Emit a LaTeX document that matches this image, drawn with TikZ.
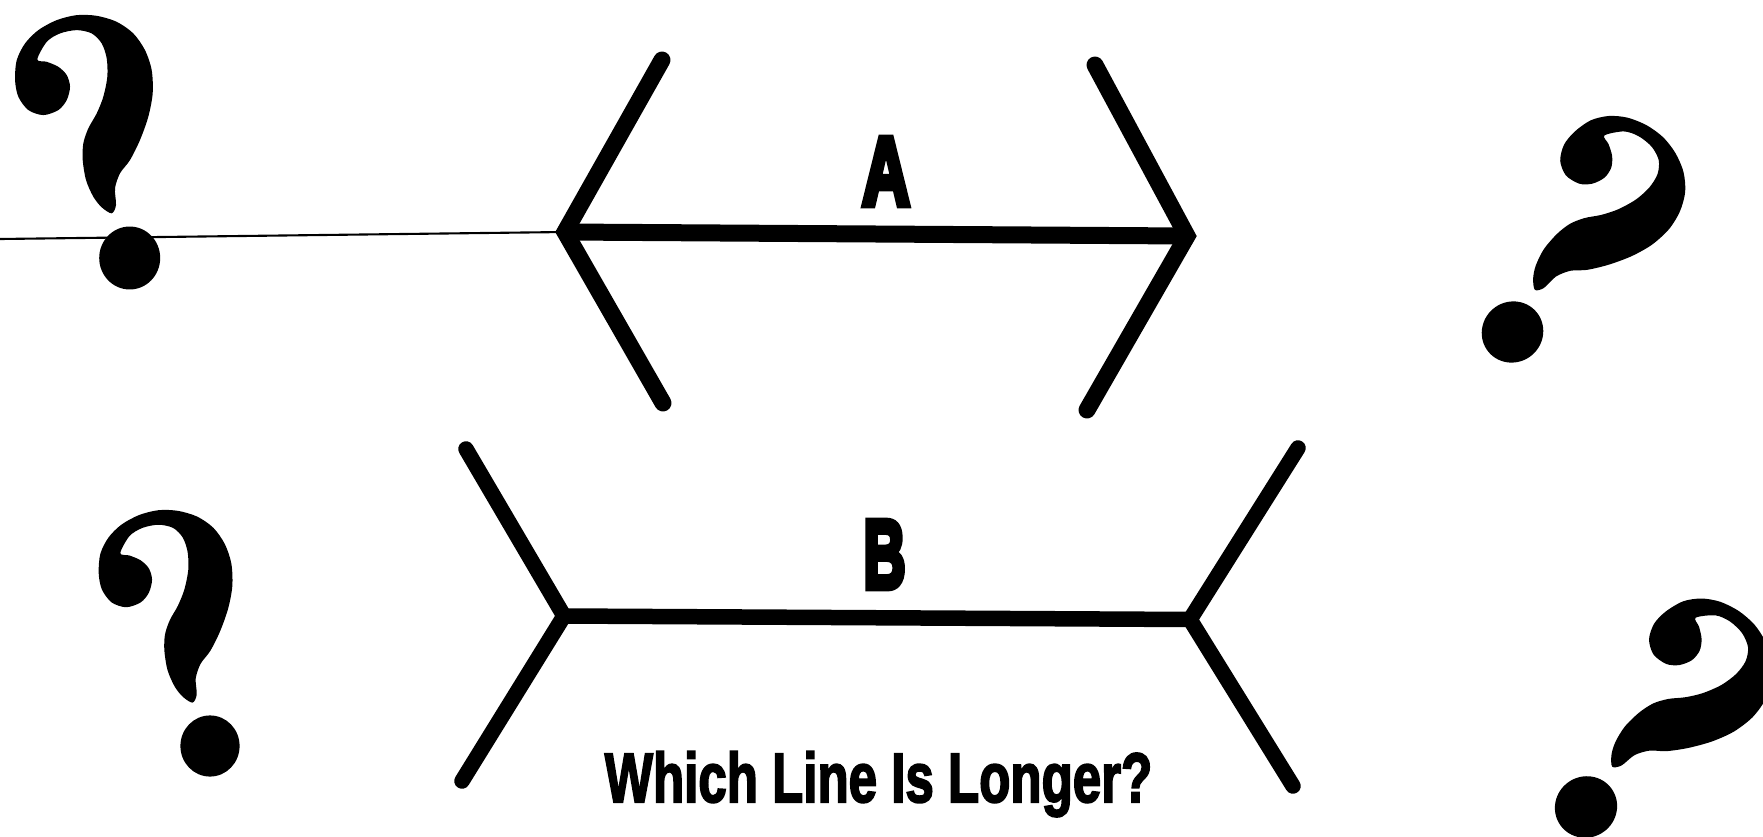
\documentclass[tikz,border=0pt]{standalone}
\usepackage{fontspec}
\newfontfamily\heavyfont{Liberation Sans}[BoldFeatures={FakeBold=3}]
\newfontfamily\letterfont{Liberation Sans}[BoldFeatures={FakeBold=7}]

\begin{document}
\begin{tikzpicture}[
  arm/.style={line width=1.7mm, line cap=round, line join=miter},
  shaft/.style={line width=1.7mm},
  letter/.style={font=\letterfont\bfseries\fontsize{27.7pt}{30pt}\selectfont, inner sep=0pt, anchor=base},
  title/.style={font=\heavyfont\bfseries\fontsize{19.9pt}{22pt}\selectfont, inner sep=0pt, anchor=base}]
% page: 1763 x 837 px, 1 px = 0.01 cm
\fill[white] (0,0) rectangle (17.63,-8.37);
\useasboundingbox (0,0) rectangle (17.63,-8.37);
% question mark, local px units, origin = centre of the dot
\def\qmark{
  \fill plot[smooth cycle, tension=0.5] coordinates {
    (-18,44.7) (-13.7,53) (-14.7,69.7) (-9.7,84.7) (0.3,98) (10.3,118)
    (18.6,141.3) (23,164.7) (22,188) (15.3,208) (3.6,224.7) (-13,236.3)
    (-33,242.3) (-53,243) (-73,238) (-91.4,228) (-104.7,214.7) (-113,198)
    (-114.7,178) (-111.4,161.3) (-101.4,148) (-86.4,143) (-71.4,148)
    (-63,158) (-59.7,171.3) (-63,183) (-71.4,191.3) (-83,196.3) (-92.4,198.7)
    (-83,216.3) (-69.7,224.7) (-53,228) (-38,224.7) (-28,214.7) (-23,199.7)
    (-22.4,181.3) (-26.4,161.3) (-33,144.7) (-41.4,129.7) (-46.4,114.7)
    (-47,98) (-43.7,78) (-36.4,61.3) (-28,50.7)};
  \fill (0,0) ellipse [x radius=30.5, y radius=31.5];
}
\foreach \px/\py/\r/\s in {1.297/-2.58/0/0.01, 2.10/-7.46/0/0.0097,
                           15.125/-3.32/-50/0.0099, 15.86/-8.07/-55/0.01}{
  \begin{scope}[shift={(\px,\py)}, rotate=\r, scale=\s]
    \qmark
  \end{scope}
}
% figure A
\coordinate (edge) at (0,-2.39);
\coordinate (aL)  at (5.65,-2.32);
\coordinate (aLu) at (6.62,-0.60);
\coordinate (aLd) at (6.63,-4.03);
\coordinate (aR)  at (11.87,-2.36);
\coordinate (aRu) at (10.95,-0.65);
\coordinate (aRd) at (10.87,-4.10);
\draw[line width=0.6pt] (edge) -- (aL);
\draw[shaft] (aL) -- (aR);
\draw[arm] (aLu) -- (aL) -- (aLd);
\draw[arm] (aRu) -- (aR) -- (aRd);
\node[letter] (lblA) at (8.86,-2.05) {\scalebox{0.68}[1]{A}};
% figure B
\coordinate (bL)  at (5.64,-6.16);
\coordinate (bLu) at (4.66,-4.49);
\coordinate (bLd) at (4.62,-7.81);
\coordinate (bR)  at (11.90,-6.195);
\coordinate (bRu) at (12.98,-4.48);
\coordinate (bRd) at (12.93,-7.86);
\begin{scope}[arm/.append style={line width=1.55mm}, shaft/.append style={line width=1.55mm}]
\draw[shaft] (bL) -- (bR);
\draw[arm] (bLu) -- (bL) -- (bLd);
\draw[arm] (bRu) -- (bR) -- (bRd);
\end{scope}
\node[letter] (lblB) at (8.845,-5.88) {\scalebox{0.6}[1]{B}};
% caption
\node[title] (question) at (8.785,-8.02) {\scalebox{0.73}[1]{Which Line Is Longer?}};
\end{tikzpicture}
\end{document}
